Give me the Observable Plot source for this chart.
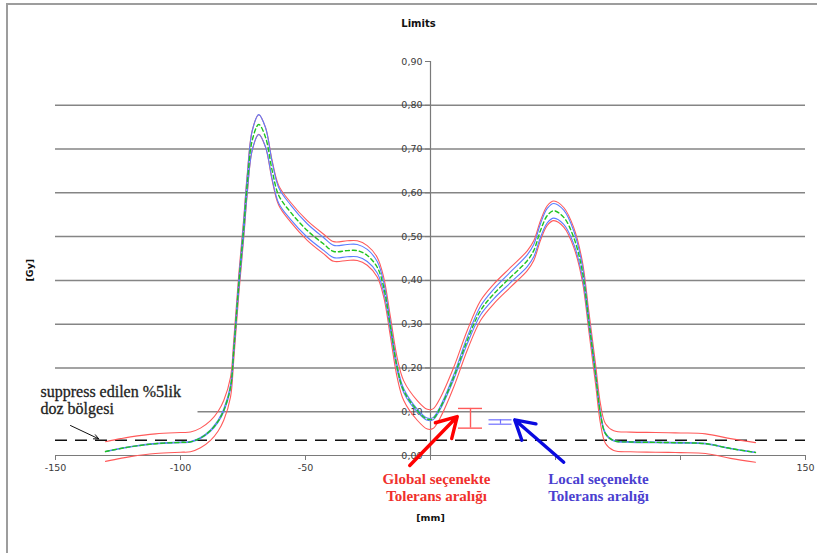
<!DOCTYPE html>
<html>
<head>
<meta charset="utf-8">
<script src="https://cdn.jsdelivr.net/npm/d3@7"></script>
<script src="https://cdn.jsdelivr.net/npm/@observablehq/plot@0.6"></script>
<style>
  html, body { margin: 0; padding: 0; background: #fff; }
  #wrap { position: relative; width: 817px; height: 553px; overflow: hidden; }
  #frame { position: absolute; left: 6px; top: 3px; width: 830px; height: 580px;
           border-left: 2px solid #9d9d9d; border-top: 2px solid #9d9d9d; pointer-events: none; }
  #chart { position: absolute; left: 0; top: 0; }
</style>
</head>
<body>
<div id="wrap"><div id="chart"></div><div id="frame"></div></div>
<script>
// Measured dose profile across the field (position in mm, dose in Gy)
const positionMm = [-130, -124, -120, -110, -100, -96, -92, -88, -85, -82.7, -80, -78.7, -76.7, -74.7, -73.3, -71.3, -68.7, -66, -63.3, -60.7, -56, -49.3, -42.7, -38.7, -33.3, -29.3, -25.3, -21.3, -18.7, -16, -13.3, -10.7, -5.3, -1.3, 1, 4, 9.3, 14.7, 20, 25.3, 32, 38.7, 41.3, 44, 46.7, 49.3, 53.3, 57.3, 60.7, 63.3, 66, 68, 70, 73.3, 80, 90, 100, 110, 120, 130];
const doseGy = [0.009, 0.016, 0.02, 0.027, 0.03, 0.031, 0.04, 0.057, 0.078, 0.103, 0.156, 0.24, 0.39, 0.52, 0.62, 0.72, 0.756, 0.727, 0.65, 0.594, 0.556, 0.514, 0.483, 0.466, 0.468, 0.468, 0.457, 0.43, 0.384, 0.293, 0.2, 0.148, 0.103, 0.083, 0.084, 0.11, 0.179, 0.263, 0.331, 0.369, 0.407, 0.445, 0.468, 0.514, 0.548, 0.559, 0.544, 0.498, 0.422, 0.308, 0.187, 0.095, 0.05, 0.034, 0.031, 0.03, 0.029, 0.027, 0.016, 0.007];

// Tolerances: global = 3% of the maximum dose, local = 3% of the point dose
const globalTolerance = 0.0225;
const localTolerance = 0.03;
const suppressLevel = 0.035;

// Axis ticks
const xTicks = [-150, -100, -50, 0, 50, 100, 150];
const xTickLabels = ["-150", "-100", "-50", "", "", "", "150"];
const yTicks = [0, 0.1, 0.2, 0.3, 0.4, 0.5, 0.6, 0.7, 0.8, 0.9];
const yTickLabels = ["0,00", "0,10", "0,20", "0,30", "0,40", "0,50", "0,60", "0,70", "0,80", "0,90"];
const gridLevels = [0.1, 0.2, 0.3, 0.4, 0.5, 0.6, 0.7, 0.8];

// Example tolerance intervals drawn beside the dose minimum
const globalBar = {x: 16, low: 0.0625, high: 0.1075};
const localBar = {x: 28, low: 0.0715, high: 0.0815};

// Annotations
const suppressNote = [
  {x: -156, y: 0.146, text: "suppress edilen %5lik"},
  {x: -156, y: 0.106, text: "doz bölgesi"}
];
const suppressNoteBox = {x1: -158, x2: -93, y1: 0.08, y2: 0.18};
const globalNote = [
  {x: 2.4, y: -0.0537, text: "Global seçenekte"},
  {x: 2.4, y: -0.0925, text: "Tolerans aralığı"}
];
const localNote = [
  {x: 67.2, y: -0.0537, text: "Local seçenekte"},
  {x: 67.2, y: -0.0925, text: "Tolerans aralığı"}
];
const pointerArrow = [{x1: -144, y1: 0.0685, x2: -132.7, y2: 0.038}];
const toleranceArrows = [
  {x1: -8.3, y1: -0.0228, x2: 10.7, y2: 0.089, color: "#ff0000"},
  {x1: 53.3, y1: -0.0153, x2: 33.7, y2: 0.0815, color: "#0a0ae0"}
];

const profile = positionMm.map((x, i) => ({x, dose: doseGy[i]}));

const red = "#ff5a5a";
const blue = "#5b7dff";
const green = "#1fc41f";
const curve = "catmull-rom";
const serif = "'Liberation Serif', 'Times New Roman', serif";

const chart = Plot.plot({
  width: 817,
  height: 553,
  marginLeft: 55,
  marginRight: 12,
  marginTop: 61,
  marginBottom: 98,
  x: {domain: [-150, 150]},
  y: {domain: [0, 0.9]},
  style: {fontFamily: "'DejaVu Sans', Verdana, sans-serif", fontSize: "9.5px", color: "#3a3a3a", background: "transparent"},
  marks: [
    // horizontal grid
    Plot.ruleY(gridLevels, {stroke: "#858585", strokeWidth: 1.5}),
    // white text box behind the suppress note
    Plot.rect([suppressNoteBox], {x1: "x1", x2: "x2", y1: "y1", y2: "y2", fill: "white"}),
    // x axis
    Plot.ruleY([0], {stroke: "#7a7a7a", strokeWidth: 1.2}),
    Plot.axisX({ticks: xTicks, tickSize: 5, tickPadding: 4, stroke: "#7a7a7a", tickFormat: (d) => xTickLabels[xTicks.indexOf(d)], label: null}),
    // y axis drawn through x = 0
    Plot.ruleX([0], {y1: 0, y2: 0.9, stroke: "#7a7a7a", strokeWidth: 1.2}),
    Plot.axisY({ticks: yTicks, tickSize: 5, tickPadding: 3, dx: 375, stroke: "#7a7a7a", tickFormat: (d) => yTickLabels[yTicks.indexOf(d)], label: null}),
    // suppressed low-dose level
    Plot.ruleY([suppressLevel], {stroke: "#111", strokeWidth: 1.6, strokeDasharray: "12,8"}),
    // global limits
    Plot.line(profile, {x: "x", y: (d) => d.dose + globalTolerance, stroke: red, strokeWidth: 1.1, curve}),
    Plot.line(profile, {x: "x", y: (d) => d.dose - globalTolerance, stroke: red, strokeWidth: 1.1, curve}),
    // local limits
    Plot.line(profile, {x: "x", y: (d) => d.dose * (1 + localTolerance), stroke: blue, strokeWidth: 1.1, curve}),
    Plot.line(profile, {x: "x", y: (d) => d.dose * (1 - localTolerance), stroke: blue, strokeWidth: 1.1, curve}),
    // measured profile
    Plot.line(profile, {x: "x", y: "dose", stroke: green, strokeWidth: 1.4, strokeDasharray: "4,3", curve}),
    // global tolerance interval
    Plot.ruleX([globalBar], {x: "x", y1: "low", y2: "high", stroke: red, strokeWidth: 1.4}),
    Plot.ruleY([globalBar], {y: "low", x1: (d) => d.x - 4.8, x2: (d) => d.x + 4.8, stroke: red, strokeWidth: 1.4}),
    Plot.ruleY([globalBar], {y: "high", x1: (d) => d.x - 4.8, x2: (d) => d.x + 4.8, stroke: red, strokeWidth: 1.4}),
    // local tolerance interval
    Plot.ruleX([localBar], {x: "x", y1: "low", y2: "high", stroke: "#6f6fff", strokeWidth: 1.2}),
    Plot.ruleY([localBar], {y: "low", x1: (d) => d.x - 4.6, x2: (d) => d.x + 4.6, stroke: "#6f6fff", strokeWidth: 1.2}),
    Plot.ruleY([localBar], {y: "high", x1: (d) => d.x - 4.6, x2: (d) => d.x + 4.6, stroke: "#6f6fff", strokeWidth: 1.2}),
    // notes and arrows
    Plot.text(suppressNote, {x: "x", y: "y", text: "text", textAnchor: "start", fontFamily: serif, fontSize: 16, fill: "#1e1e1e", stroke: "#1e1e1e", strokeWidth: 0.3}),
    Plot.text(globalNote, {x: "x", y: "y", text: "text", fontFamily: serif, fontWeight: "bold", fontSize: 15, fill: "#f0302c"}),
    Plot.text(localNote, {x: "x", y: "y", text: "text", fontFamily: serif, fontWeight: "bold", fontSize: 15, fill: "#4b3fd0"}),
    Plot.arrow(pointerArrow, {x1: "x1", y1: "y1", x2: "x2", y2: "y2", stroke: "#111", strokeWidth: 1, headLength: 8, headAngle: 50}),
    Plot.arrow(toleranceArrows, {x1: "x1", y1: "y1", x2: "x2", y2: "y2", stroke: (d) => d.color, strokeWidth: 3.4, headLength: 16, headAngle: 60}),
    // titles
    Plot.text(["Limits"], {frameAnchor: "top", lineAnchor: "middle", dy: -38, dx: -12, fontWeight: "bold", fontSize: 10, fill: "#111"}),
    Plot.text(["[mm]"], {frameAnchor: "bottom", lineAnchor: "middle", dy: 62, fontWeight: "bold", fontSize: 9.5, fill: "#111"}),
    Plot.text(["[Gy]"], {frameAnchor: "left", lineAnchor: "middle", dx: -26, dy: 23, rotate: -90, fontWeight: "bold", fontSize: 9.5, fill: "#111"})
  ]
});
document.getElementById("chart").append(chart);
</script>
</body>
</html>
